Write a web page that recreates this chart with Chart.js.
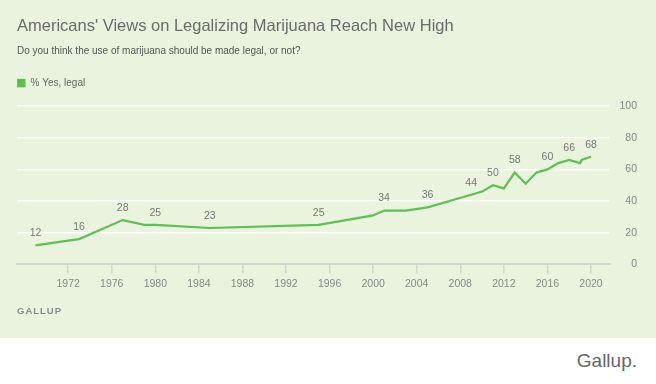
<!DOCTYPE html>
<html>
<head>
<meta charset="utf-8">
<script src="https://cdn.jsdelivr.net/npm/chart.js@4.4.1/dist/chart.umd.min.js"></script>
<style>
  html, body { margin: 0; padding: 0; background: #ffffff; }
  body { width: 656px; height: 384px; position: relative; overflow: hidden; font-family: "Liberation Sans", Arial, sans-serif; }
  #wrap { position: absolute; left: 0; top: 0; width: 656px; height: 338px; background: #e9f3dd; }
  #credit { position: absolute; right: 19px; top: 350px; font-size: 19px; color: #666666; font-family: "Liberation Sans", Arial, sans-serif; }
</style>
</head>
<body>
<div id="wrap"><canvas id="c" width="656" height="338"></canvas></div>
<div id="credit">Gallup.</div>
<script>
// ---- data ----
const years = [1969, 1972, 1973, 1977, 1979, 1980, 1985, 1995, 2000, 2001, 2003, 2005, 2009, 2010, 2011, 2012, 2013, 2014, 2015, 2016, 2017, 2018, 2019, 2019.15, 2020];
const yesLegal = [12, 15, 16, 28, 25, 25, 23, 25, 31, 34, 34, 36, 44, 46, 50, 48, 58, 51, 58, 60, 64, 66, 64, 66, 68];
const labeledYears = [1969, 1973, 1977, 1980, 1985, 1995, 2001, 2005, 2009, 2011, 2013, 2016, 2018, 2020];
const xTickYears = [1972, 1976, 1980, 1984, 1988, 1992, 1996, 2000, 2004, 2008, 2012, 2016, 2020];
const yTickValues = [0, 20, 40, 60, 80, 100];
const seriesName = "% Yes, legal";
const titleText = "Americans' Views on Legalizing Marijuana Reach New High";
const subtitleText = "Do you think the use of marijuana should be made legal, or not?";
const sourceText = "GALLUP";

const FONT = "'Liberation Sans', Arial, sans-serif";
const GREEN = '#5fc152';

const legendGap = {
  id: 'legendGap',
  beforeInit(chart) {
    const orig = chart.legend.fit;
    chart.legend.fit = function () { orig.call(this); this.height += 8; };
  }
};

const valueLabels = {
  id: 'valueLabels',
  afterDatasetsDraw(chart) {
    const ctx = chart.ctx, xs = chart.scales.x, ys = chart.scales.y;
    ctx.save();
    ctx.font = '10.5px ' + FONT;
    ctx.fillStyle = '#777777';
    ctx.textAlign = 'center';
    ctx.textBaseline = 'middle';
    labeledYears.forEach(yr => {
      const i = years.indexOf(yr);
      if (i < 0) return;
      const px = xs.getPixelForValue(years[i]);
      const py = ys.getPixelForValue(yesLegal[i]);
      ctx.fillText(String(yesLegal[i]), px, py - 12);
    });
    ctx.restore();
  }
};

const sourceLabel = {
  id: 'sourceLabel',
  afterDraw(chart) {
    const ctx = chart.ctx;
    ctx.save();
    ctx.font = 'bold 9.5px ' + FONT;
    ctx.fillStyle = '#8a8a8a';
    ctx.textAlign = 'left';
    ctx.textBaseline = 'middle';
    try { ctx.letterSpacing = '1px'; } catch (e) {}
    ctx.fillText(sourceText, 17, 311.7);
    ctx.restore();
  }
};

new Chart(document.getElementById('c'), {
  type: 'line',
  data: {
    datasets: [{
      label: seriesName,
      data: years.map((yr, i) => ({ x: yr, y: yesLegal[i] })),
      borderColor: GREEN,
      backgroundColor: '#5cbf4a',
      borderWidth: 2.2,
      pointRadius: 0,
      tension: 0,
      fill: false
    }]
  },
  options: {
    responsive: false,
    animation: false,
    layout: { padding: { left: 17, right: 19, top: 0, bottom: 44 } },
    scales: {
      x: {
        type: 'linear',
        min: 1967.3,
        max: 2021.7,
        afterBuildTicks(scale) { scale.ticks = xTickYears.map(v => ({ value: v })); },
        ticks: {
          callback: v => String(v),
          color: '#888888',
          font: { family: FONT, size: 10.5 },
          padding: 4,
          maxRotation: 0,
          autoSkip: false
        },
        grid: {
          drawOnChartArea: false,
          drawTicks: true,
          tickLength: 9,
          color: '#d3d6cf',
          lineWidth: 1.5
        },
        border: { display: true, color: '#d3d6cf', width: 2 }
      },
      y: {
        position: 'right',
        min: 0,
        max: 100,
        afterBuildTicks(scale) { scale.ticks = yTickValues.map(v => ({ value: v })); },
        ticks: {
          color: '#888888',
          font: { family: FONT, size: 10.5 },
          padding: 5,
          crossAlign: 'far'
        },
        grid: {
          drawTicks: false,
          tickLength: 0,
          color: ctx => (ctx.tick && ctx.tick.value === 0) ? 'rgba(0,0,0,0)' : '#ffffff',
          lineWidth: 1.6
        },
        border: { display: false }
      }
    },
    plugins: {
      title: {
        display: true,
        text: titleText,
        align: 'start',
        color: '#6b6b6b',
        font: { family: FONT, size: 16.5, weight: 'normal', lineHeight: 1.2 },
        padding: { top: 16.1, bottom: 0 }
      },
      subtitle: {
        display: true,
        text: subtitleText,
        align: 'start',
        color: '#555555',
        font: { family: FONT, size: 10, weight: 'normal', lineHeight: 1.2 },
        padding: { top: 9.7, bottom: 20.5 }
      },
      legend: {
        display: true,
        align: 'start',
        labels: {
          boxWidth: 8.5,
          boxHeight: 8.5,
          padding: 0,
          color: '#666666',
          font: { family: FONT, size: 10 },
          generateLabels(chart) {
            return Chart.defaults.plugins.legend.labels.generateLabels(chart).map(l => Object.assign(l, { lineWidth: 0, fillStyle: '#5cbf4a' }));
          }
        }
      },
      tooltip: { enabled: false }
    }
  },
  plugins: [legendGap, valueLabels, sourceLabel]
});
</script>
</body>
</html>
